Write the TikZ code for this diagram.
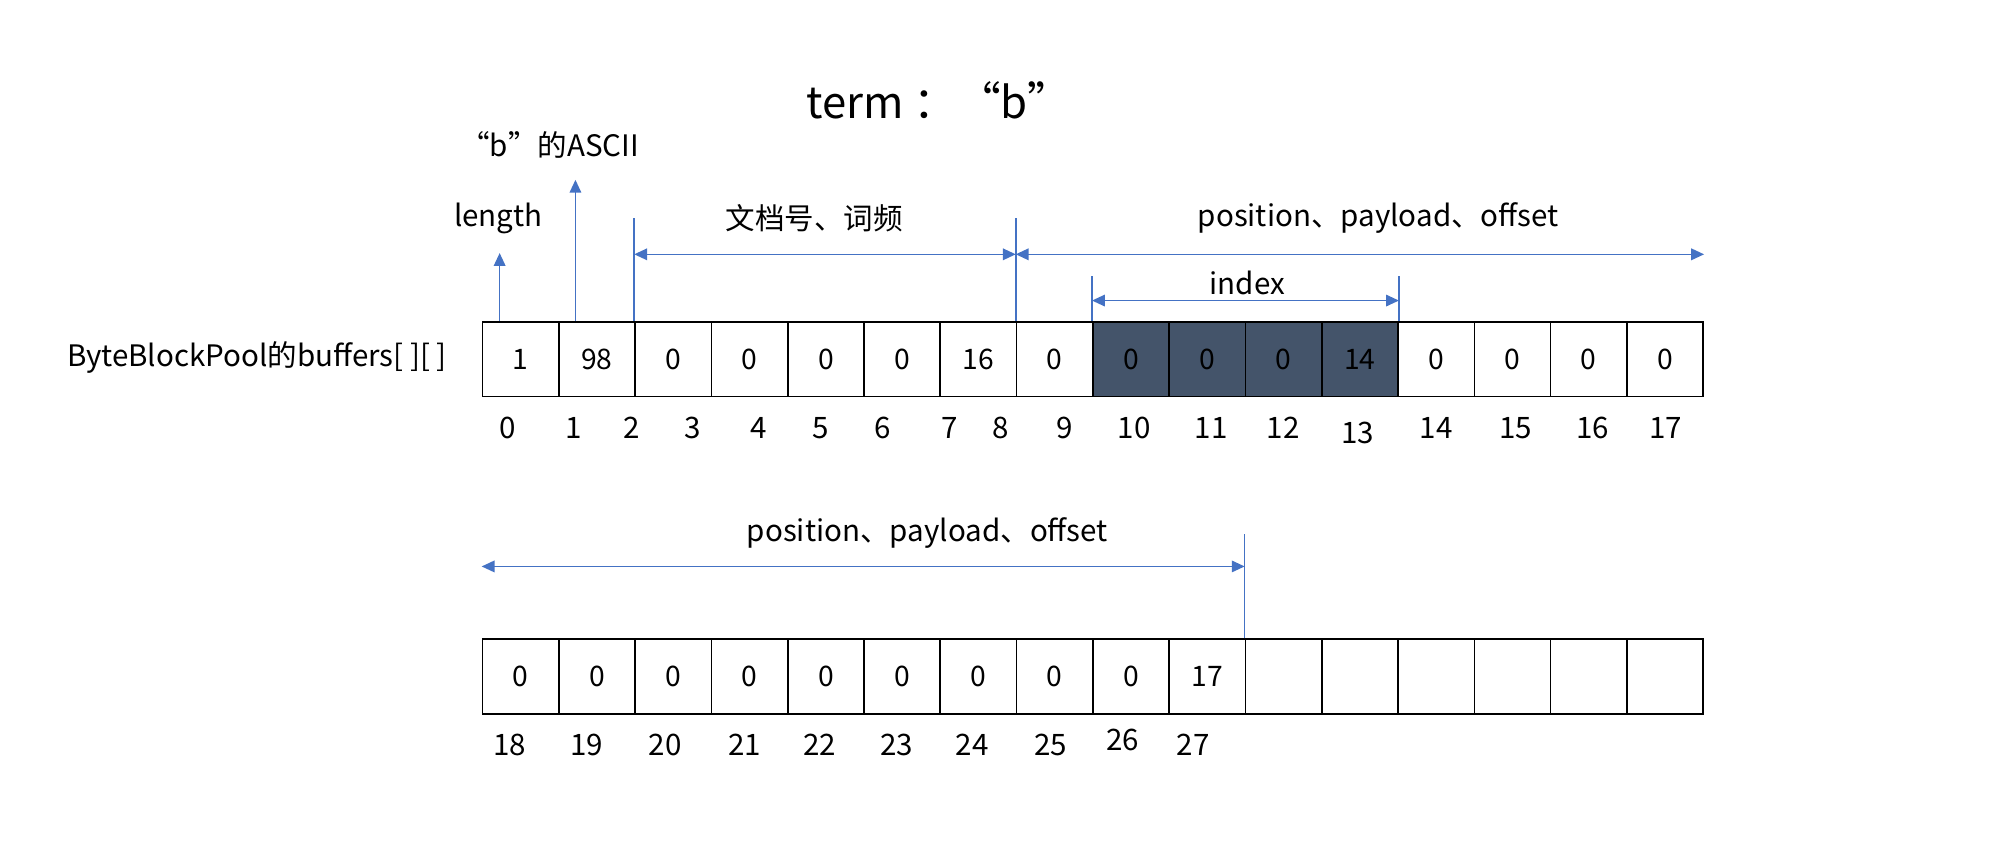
\documentclass[tikz,border=0pt]{standalone}
\usepackage{fontspec}
\setmainfont{Noto Sans CJK SC}
\usetikzlibrary{arrows.meta,calc}
\definecolor{ablue}{HTML}{4472C4}
\definecolor{dfill}{HTML}{44546A}
\begin{document}
\begin{tikzpicture}[x=1pt,y=-1pt,
  cell/.style={draw=black, line width=1.3pt, minimum width=59.4pt, minimum height=58pt, inner sep=0pt, anchor=north west, font=\fontsize{22}{24}\selectfont},
  lbl/.style={font=\fontsize{23}{26}\selectfont, inner sep=0pt},
  ttl/.style={font=\fontsize{34}{38}\selectfont, inner sep=0pt},
  bline/.style={draw=ablue, line width=1.2pt},
  barrow/.style={bline, {Triangle[length=10pt,width=9pt]}-{Triangle[length=10pt,width=9pt]}},
  uarrow/.style={bline, -{Triangle[length=10pt,width=9pt]}},
]
\useasboundingbox (0,0) rectangle (1568,668);
% top row
\foreach \v/\f [count=\i from 0] in {1/white,98/white,0/white,0/white,0/white,0/white,16/white,0/white,0/dfill,0/dfill,0/dfill,14/dfill,0/white,0/white,0/white,0/white}
  \node[cell, fill=\f] (c\i) at ({375+59.4*\i},250) {\v};
% bottom row
\foreach \v [count=\i from 0] in {0,0,0,0,0,0,0,0,0,17,{},{},{},{},{},{}}
  \node[cell, fill=white] (d\i) at ({375+59.4*\i},497) {\v};
% titles and labels
\node[ttl] (title) at (731,78) {term ：“b”};
\node[lbl] (ascii) at (428,113) {“b”的ASCII};
\node[lbl] (len) at (388,170) {length};
\node[lbl] (docf) at (634,170) {文档号、词频};
\node[lbl] (pos1) at (1073,170) {position、payload、offset};
\node[lbl] (idxl) at (971,220) {index};
\node[lbl] (buf) at (200,278) {ByteBlockPool的buffers[ ][ ]};
\node[lbl] (pos2) at (722,415) {position、payload、offset};
% index numbers
\foreach \n/\x/\y in {0/395/333,1/447/333,2/492/333,3/539/333,4/591/333,5/639/333,6/687/333,7/739/333,8/779/333,9/829/333,10/883/333,11/943/333,12/999/333,13/1057/337,14/1118/333,15/1180/333,16/1240/333,17/1297/333,18/397/580,19/457/580,20/518/580,21/580/580,22/638/580,23/698/580,24/757/580,25/818/580,26/874/576,27/929/580}
  \node[lbl] (n\n) at (\x,\y) {\n};
% arrows
\coordinate (lenTip) at (389,197);
\coordinate (asciiTip) at (448,140);
\draw[uarrow] (lenTip |- c0.north) -- (lenTip);
\draw[uarrow] (asciiTip |- c1.north) -- (asciiTip);
\coordinate (ytop) at (0,170);
\coordinate (yarr) at (0,198);
\coordinate (yitop) at (0,215);
\coordinate (yiarr) at (0,234);
\draw[bline] (c2.north west) -- (c2.north west |- ytop);
\draw[bline] (c7.north west) -- (c7.north west |- ytop);
\draw[barrow] (c2.north west |- yarr) -- (c7.north west |- yarr);
\draw[barrow] (c7.north west |- yarr) -- (c15.north east |- yarr);
\draw[bline] (c8.north west) -- (c8.north west |- yitop);
\draw[bline] (c11.north east) -- (c11.north east |- yitop);
\draw[barrow] (c8.north west |- yiarr) -- (c11.north east |- yiarr);
\coordinate (ybtop) at (0,416);
\coordinate (ybarr) at (0,441);
\draw[bline] (d10.north west) -- (d10.north west |- ybtop);
\draw[barrow] (d0.north west |- ybarr) -- (d10.north west |- ybarr);
\end{tikzpicture}
\end{document}
